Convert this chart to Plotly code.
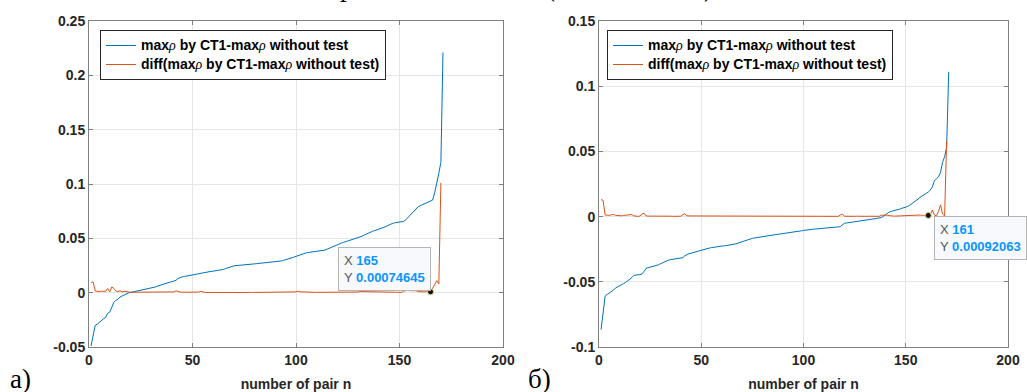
import plotly.graph_objects as go

# ---------------- data ----------------
blue_a = [
    -0.0490, -0.0400, -0.0300, -0.0290, -0.0270, -0.0260, -0.0240, -0.0230, -0.0190, -0.0180,
    -0.0130, -0.0090, -0.0070, -0.0060, -0.0040, -0.0030, -0.0025, -0.0010, -0.0003, 0.0002,
    0.0006, 0.0010, 0.0014, 0.0018, 0.0021, 0.0024, 0.0027, 0.0030, 0.0033, 0.0037,
    0.0045, 0.0052, 0.0060, 0.0067, 0.0072, 0.0078, 0.0084, 0.0090, 0.0096, 0.0101,
    0.0106, 0.0113, 0.0130, 0.0140, 0.0145, 0.0149, 0.0153, 0.0157, 0.0160, 0.0163,
    0.0166, 0.0171, 0.0176, 0.0181, 0.0186, 0.0190, 0.0192, 0.0194, 0.0196, 0.0198,
    0.0200, 0.0202, 0.0204, 0.0206, 0.0214, 0.0222, 0.0230, 0.0238, 0.0245, 0.0247,
    0.0249, 0.0250, 0.0252, 0.0253, 0.0255, 0.0257, 0.0259, 0.0261, 0.0263, 0.0265,
    0.0267, 0.0269, 0.0270, 0.0271, 0.0273, 0.0274, 0.0276, 0.0277, 0.0279, 0.0280,
    0.0282, 0.0287, 0.0292, 0.0297, 0.0302, 0.0308, 0.0314, 0.0320, 0.0327, 0.0334,
    0.0342, 0.0350, 0.0358, 0.0365, 0.0367, 0.0370, 0.0372, 0.0375, 0.0377, 0.0380,
    0.0383, 0.0386, 0.0389, 0.0392, 0.0400, 0.0409, 0.0418, 0.0427, 0.0436, 0.0445,
    0.0451, 0.0457, 0.0463, 0.0469, 0.0474, 0.0479, 0.0484, 0.0490, 0.0497, 0.0504,
    0.0510, 0.0520, 0.0530, 0.0540, 0.0550, 0.0560, 0.0565, 0.0571, 0.0577, 0.0583,
    0.0589, 0.0595, 0.0605, 0.0615, 0.0625, 0.0634, 0.0640, 0.0644, 0.0648, 0.0651,
    0.0654, 0.0656, 0.0670, 0.0690, 0.0712, 0.0730, 0.0750, 0.0772, 0.0790, 0.0800,
    0.0808, 0.0815, 0.0822, 0.0832, 0.0842, 0.0852, 0.0920, 0.1000, 0.1100, 0.1200,
    0.2210,
]
orange_a = [
    0.0090, 0.0100, 0.0015, 0.0012, 0.0010, 0.0014, 0.0011, 0.0012, 0.0038, 0.0008,
    0.0052, 0.0040, 0.0016, 0.0010, 0.0018, 0.0007, 0.0013, 0.0009, 0.0005, 0.0004,
    0.0004, 0.0004, 0.0003, 0.0003, 0.0003, 0.0003, 0.0003, 0.0004, 0.0003, 0.0006,
    0.0007, 0.0006, 0.0007, 0.0005, 0.0006, 0.0006, 0.0006, 0.0005, 0.0005, 0.0005,
    0.0007, 0.0017, 0.0010, 0.0005, 0.0004, 0.0004, 0.0004, 0.0003, 0.0003, 0.0003,
    0.0005, 0.0005, 0.0005, 0.0012, 0.0004, 0.0002, 0.0002, 0.0002, 0.0002, 0.0002,
    0.0002, 0.0002, 0.0002, 0.0008, 0.0008, 0.0008, 0.0008, 0.0007, 0.0002, 0.0002,
    0.0001, 0.0002, 0.0001, 0.0002, 0.0002, 0.0002, 0.0002, 0.0002, 0.0002, 0.0002,
    0.0002, 0.0001, 0.0001, 0.0002, 0.0001, 0.0002, 0.0001, 0.0002, 0.0001, 0.0002,
    0.0005, 0.0005, 0.0005, 0.0005, 0.0006, 0.0006, 0.0006, 0.0007, 0.0007, 0.0008,
    0.0014, 0.0008, 0.0007, 0.0002, 0.0003, 0.0002, 0.0003, 0.0002, 0.0003, 0.0003,
    0.0003, 0.0003, 0.0003, 0.0008, 0.0009, 0.0009, 0.0009, 0.0009, 0.0009, 0.0006,
    0.0006, 0.0006, 0.0006, 0.0005, 0.0005, 0.0005, 0.0006, 0.0007, 0.0007, 0.0006,
    0.0010, 0.0010, 0.0010, 0.0010, 0.0010, 0.0005, 0.0006, 0.0006, 0.0006, 0.0006,
    0.0006, 0.0010, 0.0010, 0.0010, 0.0009, 0.0006, 0.0004, 0.0004, 0.0003, 0.0003,
    0.0002, 0.0014, 0.0020, 0.0022, 0.0018, 0.0020, 0.0022, 0.0018, 0.0010, 0.0008,
    0.0007, 0.0007, 0.0010, 0.0010, 0.00074645, 0.0040, 0.0080, 0.0110, 0.0080, 0.1010,
]
blue_b = [
    -0.0867, -0.0740, -0.0610, -0.0597, -0.0588, -0.0578, -0.0565, -0.0548, -0.0538, -0.0528,
    -0.0520, -0.0514, -0.0505, -0.0494, -0.0482, -0.0468, -0.0452, -0.0447, -0.0446, -0.0445,
    -0.0440, -0.0420, -0.0397, -0.0392, -0.0388, -0.0384, -0.0379, -0.0374, -0.0370, -0.0362,
    -0.0354, -0.0347, -0.0340, -0.0334, -0.0330, -0.0327, -0.0325, -0.0322, -0.0320, -0.0318,
    -0.0315, -0.0300, -0.0290, -0.0284, -0.0281, -0.0276, -0.0271, -0.0266, -0.0261, -0.0256,
    -0.0251, -0.0247, -0.0244, -0.0241, -0.0238, -0.0235, -0.0232, -0.0229, -0.0226, -0.0225,
    -0.0224, -0.0223, -0.0221, -0.0220, -0.0218, -0.0214, -0.0209, -0.0203, -0.0197, -0.0191,
    -0.0186, -0.0180, -0.0175, -0.0171, -0.0167, -0.0164, -0.0161, -0.0158, -0.0155, -0.0153,
    -0.0151, -0.0149, -0.0146, -0.0143, -0.0141, -0.0139, -0.0137, -0.0135, -0.0133, -0.0131,
    -0.0129, -0.0127, -0.0125, -0.0124, -0.0122, -0.0118, -0.0115, -0.0112, -0.0109, -0.0106,
    -0.0103, -0.0101, -0.0099, -0.0098, -0.0096, -0.0095, -0.0094, -0.0093, -0.0092, -0.0091,
    -0.0090, -0.0088, -0.0086, -0.0085, -0.0083, -0.0081, -0.0079, -0.0077, -0.0065, -0.0051,
    -0.0049, -0.0047, -0.0045, -0.0042, -0.0040, -0.0038, -0.0035, -0.0033, -0.0030, -0.0028,
    -0.0026, -0.0024, -0.0021, -0.0019, -0.0016, -0.0013, -0.0010, -0.0008, 0.0002, 0.0014,
    0.0026, 0.0035, 0.0041, 0.0044, 0.0048, 0.0052, 0.0057, 0.0063, 0.0068, 0.0071,
    0.0078, 0.0088, 0.0099, 0.0108, 0.0121, 0.0134, 0.0148, 0.0160, 0.0170, 0.0178,
    0.0188, 0.0203, 0.0228, 0.0274, 0.0290, 0.0305, 0.0340, 0.0415, 0.0460, 0.0530,
    0.1110,
]
orange_b = [
    0.0130, 0.0125, 0.0012, 0.0009, 0.0010, 0.0013, 0.0017, 0.0010, 0.0008, 0.0008,
    0.0006, 0.0009, 0.0011, 0.0012, 0.0014, 0.0016, 0.0006, 0.0002, 0.0002, 0.0004,
    0.0020, 0.0026, 0.0005, 0.0004, 0.0004, 0.0005, 0.0005, 0.0004, 0.0008, 0.0008,
    0.0007, 0.0007, 0.0006, 0.0004, 0.0003, 0.0002, 0.0003, 0.0002, 0.0002, 0.0003,
    0.0015, 0.0022, 0.0006, 0.0003, 0.0005, 0.0005, 0.0005, 0.0005, 0.0005, 0.0005,
    0.0004, 0.0003, 0.0003, 0.0003, 0.0003, 0.0003, 0.0003, 0.0003, 0.0001, 0.0001,
    0.0001, 0.0002, 0.0001, 0.0002, 0.0004, 0.0005, 0.0006, 0.0006, 0.0006, 0.0005,
    0.0006, 0.0005, 0.0004, 0.0004, 0.0003, 0.0003, 0.0003, 0.0003, 0.0002, 0.0002,
    0.0002, 0.0003, 0.0003, 0.0002, 0.0002, 0.0002, 0.0002, 0.0002, 0.0002, 0.0002,
    0.0002, 0.0002, 0.0001, 0.0002, 0.0004, 0.0003, 0.0003, 0.0003, 0.0003, 0.0003,
    0.0002, 0.0002, 0.0001, 0.0002, 0.0001, 0.0001, 0.0001, 0.0001, 0.0001, 0.0001,
    0.0002, 0.0002, 0.0001, 0.0002, 0.0002, 0.0002, 0.0002, 0.0012, 0.0020, 0.0003,
    0.0002, 0.0002, 0.0003, 0.0002, 0.0002, 0.0003, 0.0002, 0.0003, 0.0002, 0.0002,
    0.0002, 0.0003, 0.0002, 0.0003, 0.0003, 0.0003, 0.0002, 0.0010, 0.0012, 0.0012,
    0.0009, 0.0006, 0.0003, 0.0004, 0.0004, 0.0005, 0.0006, 0.0005, 0.0003, 0.0007,
    0.0010, 0.0011, 0.0009, 0.0013, 0.0013, 0.0014, 0.0012, 0.0010, 0.0008, 0.0010,
    0.00092063, 0.0015, 0.0050, 0.0012, 0.0006, 0.0040, 0.0090, 0.0020, 0.0005, 0.0580,
]
tip_a_n = 165
tip_b_n = 161

x_ticks = [0, 50, 100, 150, 200]
y_ticks_a = [-0.05, 0, 0.05, 0.1, 0.15, 0.2, 0.25]
y_labels_a = ["-0.05", "0", "0.05", "0.1", "0.15", "0.2", "0.25"]
y_ticks_b = [-0.1, -0.05, 0, 0.05, 0.1, 0.15]
y_labels_b = ["-0.1", "-0.05", "0", "0.05", "0.1", "0.15"]

rho = "<span style='font-family:Liberation Serif;font-weight:normal;font-style:italic'>ρ</span>"
name_blue = f"<span style='font-size:14px'>max{rho} by CT1-max{rho} without test</span>"
name_orange = f"<span style='font-size:14px'>diff(max{rho} by CT1-max{rho} without test)</span>"

BLUE = "#0072BD"
ORANGE = "#D95319"
W, H = 1027, 392

n_a = list(range(1, len(blue_a) + 1))
n_ao = list(range(1, len(orange_a) + 1))
n_b = list(range(1, len(blue_b) + 1))
n_bo = list(range(1, len(orange_b) + 1))

fig = go.Figure()
fig.add_trace(go.Scatter(x=n_a, y=blue_a, mode="lines", name=name_blue,
                         line=dict(color=BLUE, width=1), xaxis="x", yaxis="y", legend="legend"))
fig.add_trace(go.Scatter(x=n_ao, y=orange_a, mode="lines", name=name_orange,
                         line=dict(color=ORANGE, width=1), xaxis="x", yaxis="y", legend="legend"))
fig.add_trace(go.Scatter(x=n_b, y=blue_b, mode="lines", name=name_blue,
                         line=dict(color=BLUE, width=1), xaxis="x2", yaxis="y2", legend="legend2"))
fig.add_trace(go.Scatter(x=n_bo, y=orange_b, mode="lines", name=name_orange,
                         line=dict(color=ORANGE, width=1), xaxis="x2", yaxis="y2", legend="legend2"))

ya_tip = orange_a[tip_a_n - 1]
yb_tip = orange_b[tip_b_n - 1]
fig.add_trace(go.Scatter(x=[tip_a_n], y=[ya_tip], mode="markers", showlegend=False,
                         marker=dict(color="#111111", size=6, line=dict(color="#e8d88a", width=1)),
                         xaxis="x", yaxis="y"))
fig.add_trace(go.Scatter(x=[tip_b_n], y=[yb_tip], mode="markers", showlegend=False,
                         marker=dict(color="#111111", size=6, line=dict(color="#e8d88a", width=1)),
                         xaxis="x2", yaxis="y2"))

font_ax = dict(family="Liberation Sans", size=14, color="#262626", weight="bold")
common = dict(showline=True, linecolor="#808080", linewidth=1, mirror="ticks",
              ticks="inside", ticklen=4, tickcolor="#808080", tickwidth=1,
              showgrid=True, gridcolor="#e6e6e6", gridwidth=1, zeroline=False,
              tickfont=font_ax, automargin=False)

ydom = [45 / H, 371 / H]
leg_font = dict(family="Liberation Sans", size=11, color="black", weight="bold")
fig.update_layout(
    width=W, height=H,
    margin=dict(l=0, r=0, t=0, b=0, pad=0, autoexpand=False),
    paper_bgcolor="white", plot_bgcolor="white",
    xaxis=dict(domain=[89 / W, 503 / W], range=[0, 200], tickvals=x_ticks, anchor="y",
               title=dict(text="number of pair n", font=font_ax, standoff=12), **common),
    yaxis=dict(domain=ydom, range=[-0.05, 0.25], tickvals=y_ticks_a, ticktext=y_labels_a,
               anchor="x", **common),
    xaxis2=dict(domain=[599 / W, 1008 / W], range=[0, 200], tickvals=x_ticks, anchor="y2",
                title=dict(text="number of pair n", font=font_ax, standoff=12), **common),
    yaxis2=dict(domain=ydom, range=[-0.1, 0.15], tickvals=y_ticks_b, ticktext=y_labels_b,
                anchor="x2", **common),
    legend=dict(x=100 / W, y=(H - 30) / H, xanchor="left", yanchor="top",
                bgcolor="white", bordercolor="#262626", borderwidth=1,
                font=leg_font, tracegroupgap=0),
    legend2=dict(x=607 / W, y=(H - 30) / H, xanchor="left", yanchor="top",
                 bgcolor="white", bordercolor="#262626", borderwidth=1,
                 font=leg_font, tracegroupgap=0),
    showlegend=True,
)

VAL = "#0a95ff"
def tip_text(n, v):
    return (f"<span style='color:#555555'>X</span> <b><span style='color:{VAL}'>{n}</span></b><br>"
            f"<span style='color:#555555'>Y</span> <b><span style='color:{VAL}'>{v:.8g}</span></b>")

tip_font = dict(family="Liberation Sans", size=13, color="#555555")
fig.add_annotation(x=tip_a_n, y=ya_tip, xref="x", yref="y", text=tip_text(tip_a_n, ya_tip),
                   showarrow=False, xanchor="right", yanchor="bottom", align="left",
                   bgcolor="#f8f9fd", bordercolor="#b4b4b4", borderwidth=1, borderpad=5,
                   font=tip_font, xshift=0, yshift=1)
fig.add_annotation(x=tip_b_n, y=yb_tip, xref="x2", yref="y2", text=tip_text(tip_b_n, yb_tip),
                   showarrow=False, xanchor="left", yanchor="top", align="left",
                   bgcolor="#f8f9fd", bordercolor="#b4b4b4", borderwidth=1, borderpad=5,
                   font=tip_font, xshift=6, yshift=-1)

# panel labels
serif = dict(family="Liberation Serif", size=27, color="black")
fig.add_annotation(x=8 / W, y=-4 / H, xref="paper", yref="paper", text="а)", showarrow=False,
                   xanchor="left", yanchor="bottom", font=serif)
fig.add_annotation(x=526 / W, y=-4 / H, xref="paper", yref="paper", text="б)", showarrow=False,
                   xanchor="left", yanchor="bottom", font=serif)

# fragments of the caption line above (cut off at the top edge)
for xs, t in [(338, "р"), (544, "("), (702, ")")]:
    fig.add_annotation(x=xs / W, y=(H - 4) / H, xref="paper", yref="paper", text=t,
                       showarrow=False, xanchor="left", yanchor="bottom", font=serif)

fig.write_html("out.html", config={"displayModeBar": False},
               post_script="document.body.style.margin='0';document.body.style.overflow='hidden';")
